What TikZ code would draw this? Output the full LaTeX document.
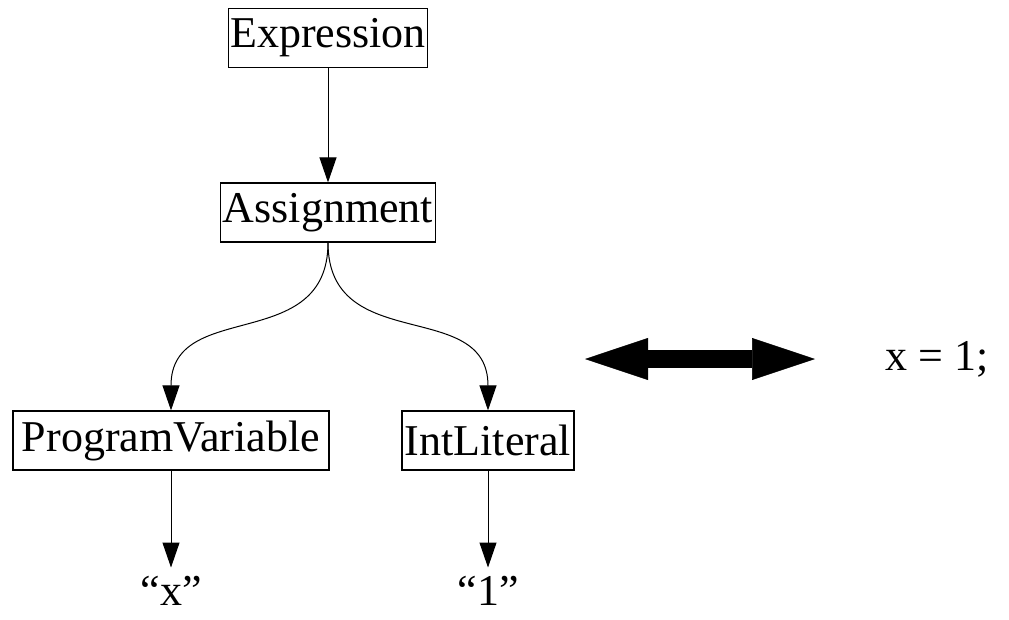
\documentclass[tikz,border=0pt]{standalone}
\usepackage{fontspec}
\setmainfont{Liberation Serif}
\usepackage{tikz}
\usetikzlibrary{arrows.meta}
\tikzset{arrow/.style={-{Triangle[length=25pt,width=17pt]}, line width=1pt}}
\tikzset{box/.style={draw, line width=1.2pt, inner xsep=2pt, minimum height=59pt}}
\tikzset{leaf/.style={anchor=base, inner sep=2pt}}
\tikzset{twoway/.style={{Triangle[length=63pt,width=42pt,line width=0.5pt]}-{Triangle[length=63pt,width=42pt,line width=0.5pt]}, line width=18pt}}

\begin{document}
\begin{tikzpicture}[x=1pt,y=-1pt,font=\fontsize{44}{53}\selectfont]
		\useasboundingbox (0,0) rectangle (1009,619);
		
		\node[box] (expr) at (328,38) {Expression};
		\node[box] (assign) at (328,212.5) {Assignment};
		\node[box, minimum width=316pt] (pvar) at (171,440.5) {ProgramVariable};
		\node[box, minimum width=172pt] (intlit) at (488,440.5) {IntLiteral};
		
		\node[leaf] (xval) at (171,605) {``x''};
		\node[leaf] (oneval) at (488,605) {``1''};
		
		\draw[arrow] (expr.south) -- (assign.north);
		\draw[arrow] (assign.south) to[out=-90,in=90,looseness=1.25] (pvar.north);
		\draw[arrow] (assign.south) to[out=-90,in=90,looseness=1.25] (intlit.north);
		\draw[arrow, shorten >=6pt] (pvar.south) -- (xval.north);
		\draw[arrow, shorten >=6pt] (intlit.south) -- (oneval.north);
		
		\coordinate (lft) at (585,359);
		\coordinate (rgt) at (815,359);
		\draw[twoway] (lft) -- (rgt);
		
		\node (code) at (937.5,359) {x = 1;};
	\end{tikzpicture}
\end{document}
